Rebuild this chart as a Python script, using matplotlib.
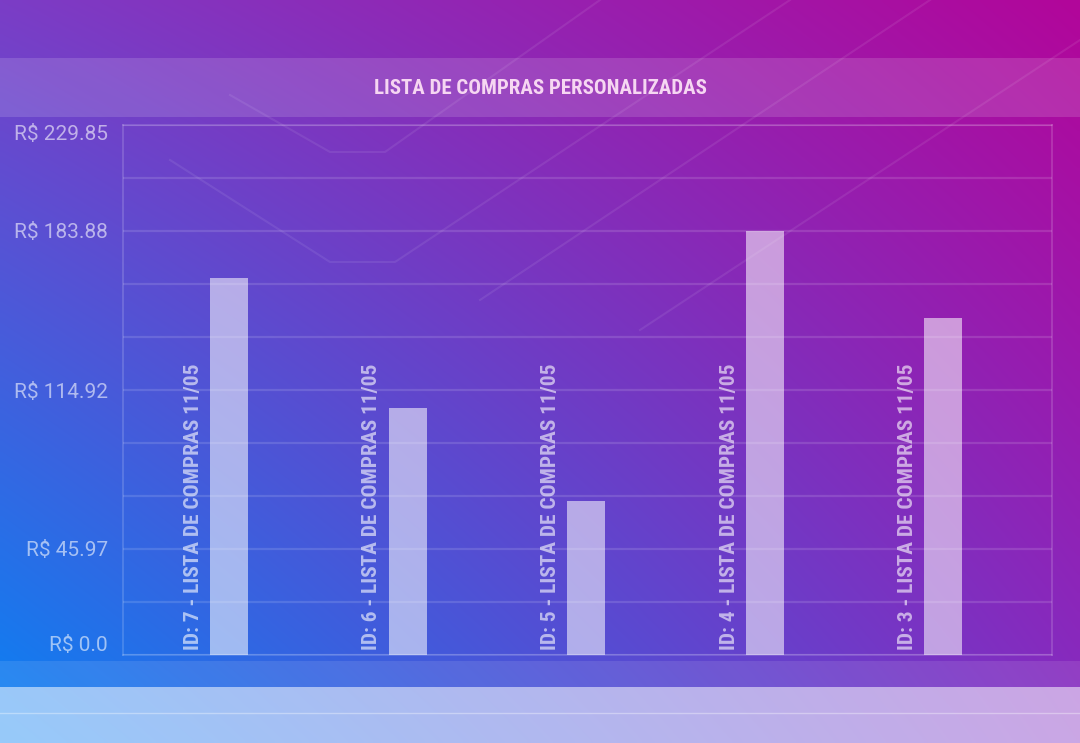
import numpy as np
import matplotlib
matplotlib.use("Agg")
import matplotlib.pyplot as plt
from matplotlib.patches import Rectangle

# data
labels = ["ID: 7 - LISTA DE COMPRAS 11/05", "ID: 6 - LISTA DE COMPRAS 11/05",
          "ID: 5 - LISTA DE COMPRAS 11/05", "ID: 4 - LISTA DE COMPRAS 11/05",
          "ID: 3 - LISTA DE COMPRAS 11/05"]
valores = [163.5, 107.1, 66.8, 183.88, 146.1]
y_max = 229.85
y_ticks = [0.0, 45.97, 114.92, 183.88, 229.85]
titulo = "LISTA DE COMPRAS PERSONALIZADAS"

W, H = 1080, 743
fig = plt.figure(figsize=(W / 100, H / 100), dpi=100)

# background gradient (bilinear between the four corners)
tl = np.array([0x7b, 0x3d, 0xc6]) / 255
tr = np.array([0xb2, 0x06, 0x9a]) / 255
bl = np.array([0x08, 0x82, 0xf4]) / 255
br = np.array([0x82, 0x2e, 0xc2]) / 255
u = np.linspace(0, 1, 270)[None, :, None]
v = np.linspace(0, 1, 186)[:, None, None]
img = (1 - v) * ((1 - u) * tl + u * tr) + v * ((1 - u) * bl + u * br)

bg = fig.add_axes([0, 0, 1, 1], zorder=0)
bg.imshow(img, extent=[0, W, H, 0], aspect="auto", interpolation="bilinear")
bg.set_xlim(0, W)
bg.set_ylim(H, 0)
bg.axis("off")

# faint decorative streaks
streaks = [
    [(230, 95), (330, 152), (385, 152), (600, 0)],
    [(170, 160), (330, 262), (395, 262), (790, 0)],
    [(480, 300), (1080, -100)],
    [(640, 330), (1080, 40)],
]
for s in streaks:
    xs, ys = zip(*s)
    bg.plot(xs, ys, color="white", alpha=0.08, lw=1.5)

# title band and bottom bands
bg.add_patch(Rectangle((0, 58), W, 59, color="white", alpha=0.14, lw=0))
bg.add_patch(Rectangle((0, 661), W, 26, color="white", alpha=0.10, lw=0))
bg.add_patch(Rectangle((0, 687), W, 56, color="white", alpha=0.58, lw=0))
bg.plot([0, W], [713, 713], color="white", alpha=0.35, lw=1)

cond = ["Roboto Condensed", "DejaVu Sans"]
bg.text(540, 88, titulo, ha="center", va="center", color="#f6d6f2",
        fontsize=15, fontweight="bold", fontstretch="condensed", family=cond)

# chart
ax = fig.add_axes([123 / W, 1 - 655 / H, (1052 - 123) / W, (655 - 125) / H], zorder=1)
ax.set_facecolor("none")
x = np.arange(len(valores))
ax.bar(x, valores, width=0.213, color="white", alpha=0.55, zorder=3)
ax.set_xlim(-0.593, 4.608)
ax.set_ylim(0, y_max)

for i, lab in enumerate(labels):
    ax.text(x[i] - 0.2, 2, lab, rotation=90, ha="center", va="bottom",
            color="white", alpha=0.6, fontsize=15.4, fontweight="bold",
            fontstretch="condensed", family=cond, zorder=4)

for g in np.linspace(0, y_max, 11):
    ax.axhline(g, color="white", alpha=0.13, lw=1.6, zorder=1)

for sp in ax.spines.values():
    sp.set_color((1, 1, 1, 0.18))
    sp.set_linewidth(1.2)

ax.set_xticks([])
ax.set_yticks(y_ticks)
ax.set_yticklabels(["R$ " + str(t) for t in y_ticks], family="Roboto",
                   fontsize=15, color=(1, 1, 1, 0.58))
ax.tick_params(axis="y", length=0, pad=11)
tls = ax.get_yticklabels()
tls[0].set_va("bottom")
tls[-1].set_va("top")

fig.savefig("out.png", dpi=100)
